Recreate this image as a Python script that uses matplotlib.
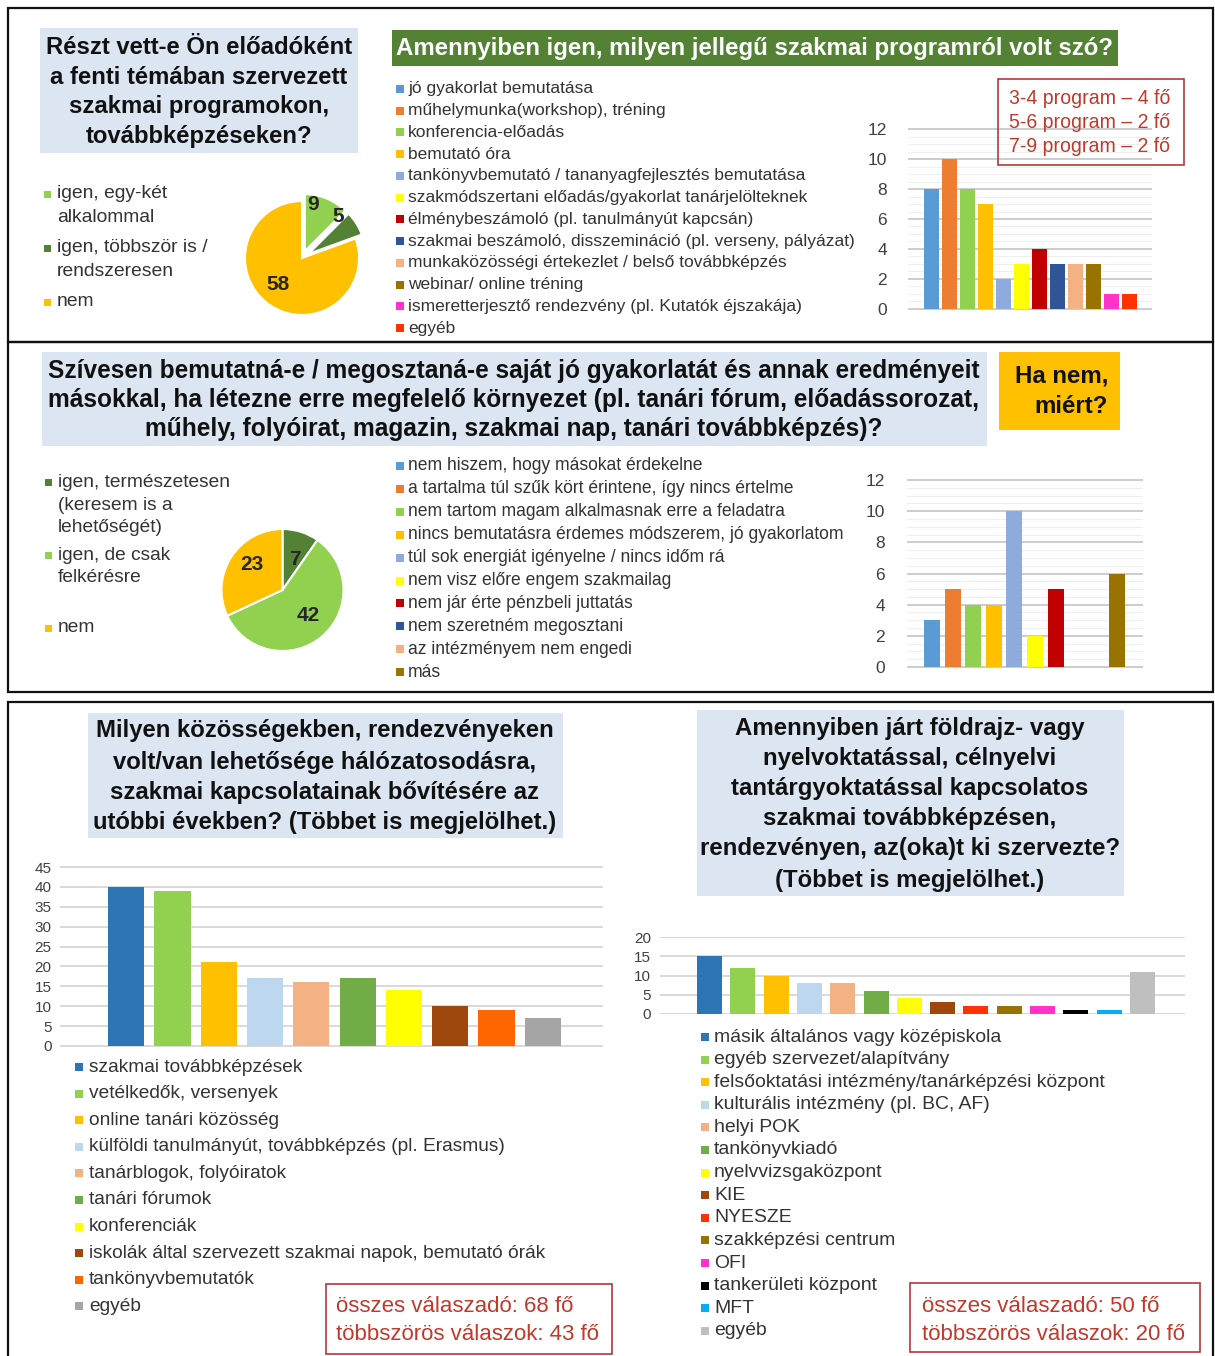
import matplotlib
matplotlib.use("Agg")
import matplotlib.pyplot as plt
from matplotlib.patches import Rectangle
from matplotlib import font_manager
import numpy as np

# ---------------- data ----------------
q1_labels = ["igen, egy-két\nalkalommal", "igen, többször is /\nrendszeresen", "nem"]
q1_values = [9, 5, 58]

q2_labels = ["jó gyakorlat bemutatása",
             "műhelymunka(workshop), tréning",
             "konferencia-előadás",
             "bemutató óra",
             "tankönyvbemutató / tananyagfejlesztés bemutatása",
             "szakmódszertani előadás/gyakorlat tanárjelölteknek",
             "élménybeszámoló (pl. tanulmányút kapcsán)",
             "szakmai beszámoló, disszemináció (pl. verseny, pályázat)",
             "munkaközösségi értekezlet / belső továbbképzés",
             "webinar/ online tréning",
             "ismeretterjesztő rendezvény (pl. Kutatók éjszakája)",
             "egyéb"]
q2_values = [8, 10, 8, 7, 2, 3, 4, 3, 3, 3, 1, 1]
q2_note = ["3-4 program – 4 fő", "5-6 program – 2 fő", "7-9 program – 2 fő"]

q3_labels = ["igen, természetesen\n(keresem is a\nlehetőségét)", "igen, de csak\nfelkérésre", "nem"]
q3_values = [7, 42, 23]

q4_labels = ["nem hiszem, hogy másokat érdekelne",
             "a tartalma túl szűk kört érintene, így nincs értelme",
             "nem tartom magam alkalmasnak erre a feladatra",
             "nincs bemutatásra érdemes módszerem, jó gyakorlatom",
             "túl sok energiát igényelne / nincs időm rá",
             "nem visz előre engem szakmailag",
             "nem jár érte pénzbeli juttatás",
             "nem szeretném megosztani",
             "az intézményem nem engedi",
             "más"]
q4_values = [3, 5, 4, 4, 10, 2, 5, 0, 0, 6]

q5_labels = ["szakmai továbbképzések",
             "vetélkedők, versenyek",
             "online tanári közösség",
             "külföldi tanulmányút, továbbképzés (pl. Erasmus)",
             "tanárblogok, folyóiratok",
             "tanári fórumok",
             "konferenciák",
             "iskolák által szervezett szakmai napok, bemutató órák",
             "tankönyvbemutatók",
             "egyéb"]
q5_values = [40, 39, 21, 17, 16, 17, 14, 10, 9, 7]
q5_note = ["összes válaszadó: 68 fő", "többszörös válaszok: 43 fő"]

q6_labels = ["másik általános vagy középiskola",
             "egyéb szervezet/alapítvány",
             "felsőoktatási intézmény/tanárképzési központ",
             "kulturális intézmény (pl. BC, AF)",
             "helyi POK",
             "tankönyvkiadó",
             "nyelvvizsgaközpont",
             "KIE",
             "NYESZE",
             "szakképzési centrum",
             "OFI",
             "tankerületi központ",
             "MFT",
             "egyéb"]
q6_values = [15, 12, 10, 8, 8, 6, 4, 3, 2, 2, 2, 1, 1, 11]
q6_note = ["összes válaszadó: 50 fő", "többszörös válaszok: 20 fő"]

title1 = ["Részt vett-e Ön előadóként", "a fenti témában szervezett",
          "szakmai programokon,", "továbbképzéseken?"]
title2 = "Amennyiben igen, milyen jellegű szakmai programról volt szó?"
title3 = ["Szívesen bemutatná-e / megosztaná-e saját jó gyakorlatát és annak eredményeit",
          "másokkal, ha létezne erre megfelelő környezet (pl. tanári fórum, előadássorozat,",
          "műhely, folyóirat, magazin, szakmai nap, tanári továbbképzés)?"]
title4 = ["Ha nem,", "miért?"]
title5 = ["Milyen közösségekben, rendezvényeken", "volt/van lehetősége hálózatosodásra,",
          "szakmai kapcsolatainak bővítésére az", "utóbbi években? (Többet is megjelölhet.)"]
title6 = ["Amennyiben járt földrajz- vagy", "nyelvoktatással, célnyelvi",
          "tantárgyoktatással kapcsolatos", "szakmai továbbképzésen,",
          "rendezvényen, az(oka)t ki szervezte?", "(Többet is megjelölhet.)"]

# ---------------- styles ----------------
GOLD, LGREEN, DGREEN = "#ffc000", "#92d050", "#548235"
pie1_colors = [LGREEN, DGREEN, GOLD]
pie2_colors = [DGREEN, LGREEN, GOLD]
c2 = ["#5b9bd5", "#ed7d31", "#92d050", "#ffc000", "#8faadc", "#ffff00",
      "#c00000", "#2f5597", "#f4b183", "#997300", "#ff33cc", "#ff3300"]
c4 = ["#5b9bd5", "#ed7d31", "#92d050", "#ffc000", "#8faadc", "#ffff00",
      "#c00000", "#2f5597", "#f4b183", "#997300"]
c5 = ["#2e75b6", "#92d050", "#ffc000", "#bdd7ee", "#f4b183", "#70ad47",
      "#ffff00", "#9e480e", "#ff6600", "#a5a5a5"]
c6 = ["#2e75b6", "#92d050", "#ffc000", "#bdd7ee", "#f4b183", "#70ad47",
      "#ffff00", "#9e480e", "#ff3300", "#997300", "#ff33cc", "#000000",
      "#00b0f0", "#bfbfbf"]
LBLUE = "#dce6f2"
TXT = "#333333"
RED = "#c0392b"

names = {f.name for f in font_manager.fontManager.ttflist}
FONT = "Liberation Sans" if "Liberation Sans" in names else "DejaVu Sans"
NARROW = "Liberation Sans Narrow" if "Liberation Sans Narrow" in names else FONT
plt.rcParams["font.family"] = [FONT, "DejaVu Sans"]

W, H = 1215, 1356
fig = plt.figure(figsize=(W / 100, H / 100), dpi=100)
fig.patch.set_facecolor("white")
renderer = fig.canvas.get_renderer()


def fx(x):
    return x / W


def fy(y):
    return 1 - y / H


def ax_px(x0, y0, x1, y1):
    return fig.add_axes([x0 / W, 1 - y1 / H, (x1 - x0) / W, (y1 - y0) / H])


def rect(x0, y0, x1, y1, **kw):
    r = Rectangle((fx(x0), fy(y1)), (x1 - x0) / W, (y1 - y0) / H,
                  transform=fig.transFigure, **kw)
    fig.add_artist(r)
    return r


def fit(s, target, **kw):
    t = fig.text(0, 0, s, fontsize=12, **kw)
    w = t.get_window_extent(renderer).width
    t.remove()
    return 12 * target / w


def lines(x, ys, strs, fs, ha="center", **kw):
    for y, s in zip(ys, strs):
        fig.text(fx(x), fy(y), s, fontsize=fs, ha=ha, va="center", **kw)


def legend(xm, ys, labels, colors, fs, msize=8, dx=12, lstep=23):
    for y, lab, c in zip(ys, labels, colors):
        rect(xm, y - msize / 2, xm + msize, y + msize / 2, color=c, lw=0)
        for k, part in enumerate(lab.split("\n")):
            fig.text(fx(xm + dx), fy(y + k * lstep), part, fontsize=fs,
                     ha="left", va="center", color=TXT)


def bars(box, values, colors, ymax, step, xlim, width, fs, pad, minor=None,
         gmaj="#d0d0d0"):
    ax = ax_px(*box)
    x = np.arange(len(values))
    ax.bar(x, values, width=width, color=colors, zorder=3)
    eps = ymax * 0.006
    ax.set_xlim(*xlim)
    ax.set_ylim(-eps, ymax + eps)
    ax.set_yticks(np.arange(0, ymax + step / 2, step))
    ax.set_xticks([])
    for s in ax.spines.values():
        s.set_visible(False)
    ax.yaxis.grid(True, which="major", color=gmaj, lw=1.1, zorder=0)
    if minor:
        ax.set_yticks(np.arange(0, ymax, minor), minor=True)
        ax.yaxis.grid(True, which="minor", color="#efefef", lw=0.8, zorder=0)
        ax.tick_params(axis="y", which="minor", length=0)
    ax.tick_params(axis="y", which="major", length=0, labelsize=fs,
                   labelcolor="#404040", pad=pad)
    ax.set_axisbelow(True)
    return ax


def pie(center, r, lim, values, colors, explode, label_xy, fs):
    cx, cy = center
    ax = ax_px(cx - lim * r, cy - lim * r, cx + lim * r, cy + lim * r)
    total = sum(values)
    wedges, texts, autotexts = ax.pie(
        values, colors=colors, startangle=90, counterclock=False,
        explode=explode, autopct=lambda p: f"{round(p * total / 100)}",
        wedgeprops=dict(edgecolor="white", linewidth=1.5),
        textprops=dict(fontsize=fs, fontweight="bold", color="#262626"))
    for t, xy in zip(autotexts, label_xy):
        t.set_position(xy)
        t.set_ha("center")
        t.set_va("center")
    ax.set_xlim(-lim, lim)
    ax.set_ylim(-lim, lim)
    ax.set_aspect("equal")
    ax.axis("off")
    return ax


# ---------------- frames ----------------
rect(8, 8, 1213, 342, fill=False, edgecolor="#111111", lw=1.6)
rect(8, 342, 1213, 692, fill=False, edgecolor="#111111", lw=1.6)
rect(8, 702, 1213, 1362, fill=False, edgecolor="#111111", lw=1.6)

# ---------------- section 1 ----------------
rect(40, 28, 358, 153, color=LBLUE, lw=0)
fs = fit(title1[0], 305, fontweight="bold")
lines(199, [47, 77, 107, 137], title1, fs, fontweight="bold", color="#111111")

pie((302, 258), 57, 1.32, q1_values, pie1_colors, [0.13, 0.13, 0],
    [(0.19, 0.93), (0.63, 0.72), (-0.42, -0.46)], 15)
fs = fit("igen, többször is /", 151)
legend(44, [194, 248, 302], q1_labels, pie1_colors, fs, msize=7, dx=13)

rect(392, 30, 1118, 66, color=DGREEN, lw=0)
fs = fit(title2, 712, fontweight="bold", family=NARROW)
fig.text(fx(755), fy(49), title2, fontsize=fs, fontweight="bold",
         family=NARROW, color="white", ha="center", va="center")

fs = fit(q2_labels[7], 444)
legend(396, [89 + i * 21.73 for i in range(len(q2_labels))], q2_labels, c2, fs)

bars((908, 128, 1152, 310), q2_values, c2, 12, 2, (-1.31, 12.25), 0.83,
     12.5, 15, minor=0.5, gmaj="#bfbfbf")

rect(998, 79, 1184, 165, fill=False, edgecolor="#b03a3a", lw=1.2)
fs = fit(q2_note[0], 161)
lines(1009, [98, 122, 146], q2_note, fs, ha="left", color=RED)

# ---------------- section 2 ----------------
rect(42, 352, 987, 446, color=LBLUE, lw=0)
fs = fit(title3[0], 930, fontweight="bold")
lines(514, [371, 400, 429], title3, fs, fontweight="bold", color="#111111")

rect(999, 352, 1120, 430, color=GOLD, lw=0)
fs = fit(title4[0], 93, fontweight="bold")
lines(1108, [376, 407], title4, fs, ha="right", fontweight="bold", color="#111111")

pie((282.5, 590), 61, 1.2, q3_values, pie2_colors, [0, 0, 0],
    [(0.2, 0.5), (0.42, -0.41), (-0.5, 0.41)], 15)
fs = fit("igen, természetesen", 172)
legend(45, [482, 555, 628], q3_labels, pie2_colors, fs, msize=7, dx=13)

fs = fit(q4_labels[3], 438)
legend(396, [466 + i * 22.9 for i in range(len(q4_labels))], q4_labels, c4, fs)

bars((907, 479, 1143, 668), q4_values, c4, 12, 2, (-1.21, 10.24), 0.78,
     12.5, 16, minor=0.5, gmaj="#bfbfbf")

# ---------------- section 3 ----------------
rect(88, 713, 563, 838, color=LBLUE, lw=0)
fs = fit(title5[3], 462, fontweight="bold")
lines(325, [731, 762, 792, 823], title5, fs, fontweight="bold", color="#111111")

bars((60, 866, 603, 1047), q5_values, c5, 45, 5, (-1.43, 10.3), 0.78, 11, 6)

fs = fit(q5_labels[7], 460)
legend(75, [1067 + i * 26.6 for i in range(len(q5_labels))], q5_labels, c5, fs,
       dx=14)

rect(326, 1284, 612, 1354, fill=False, edgecolor="#b03a3a", lw=1.2)
fs = fit(q5_note[1], 264)
lines(336, [1306, 1334], q5_note, fs, ha="left", color=RED)

rect(697, 710, 1124, 896, color=LBLUE, lw=0)
fs = fit(title6[4], 418, fontweight="bold")
lines(910, [728, 758, 789, 819, 849, 880], title6, fs, fontweight="bold",
      color="#111111")

bars((660, 937, 1185, 1014), q6_values, c6, 20, 5, (-1.49, 14.28), 0.75, 11, 6.5)

fs = fit(q6_labels[2], 391)
legend(701, [1037 + i * 22.6 for i in range(len(q6_labels))], q6_labels, c6, fs,
       dx=13)

rect(910, 1283, 1200, 1352, fill=False, edgecolor="#b03a3a", lw=1.2)
fs = fit(q6_note[1], 264)
lines(922, [1306, 1334], q6_note, fs, ha="left", color=RED)

fig.savefig("out.png", dpi=100, facecolor="white")
